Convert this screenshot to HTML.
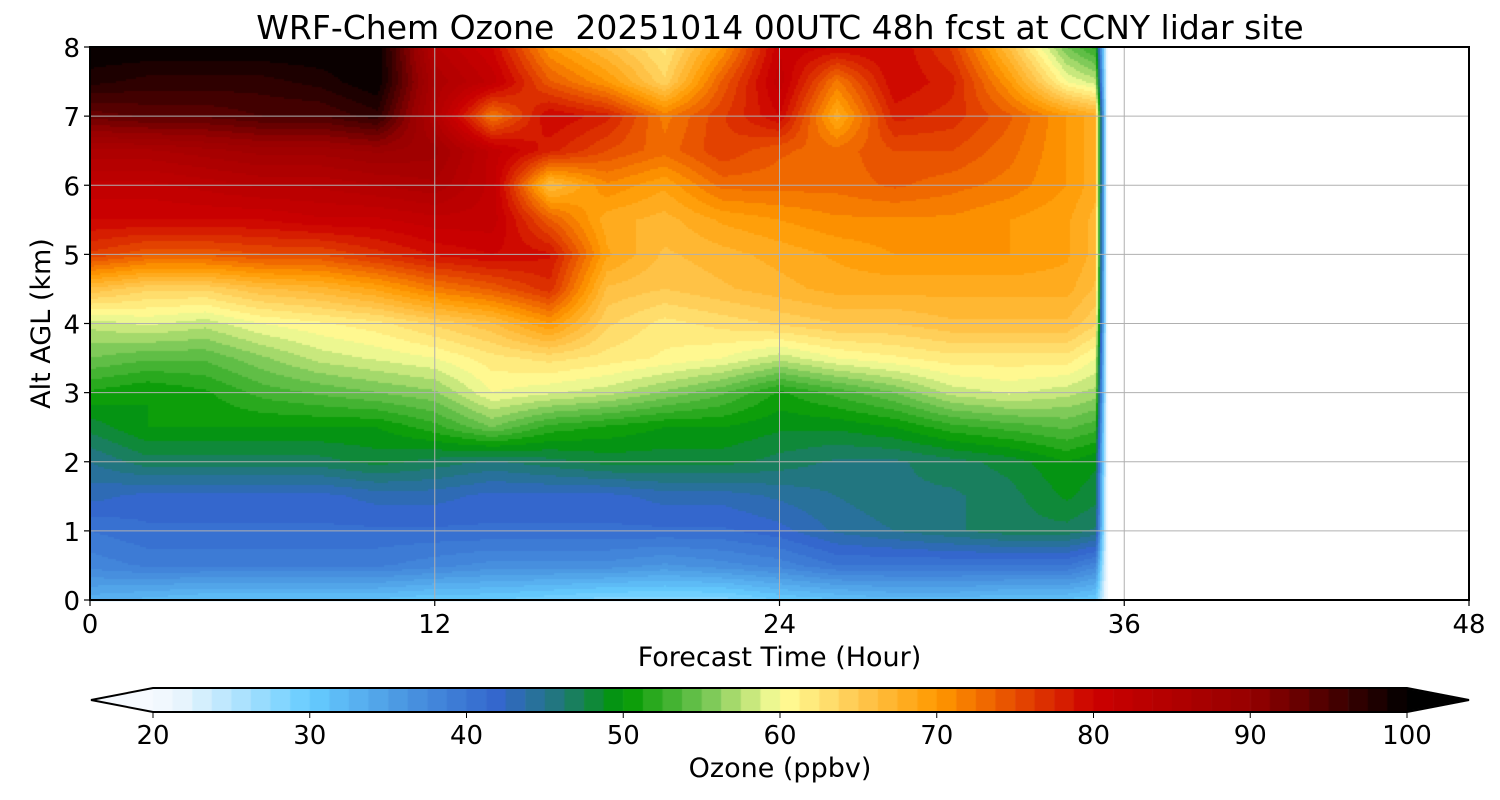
<!DOCTYPE html>
<html><head><meta charset="utf-8"><style>
body{margin:0;background:#fff;font-family:"DejaVu Sans","Liberation Sans",sans-serif}
#wrap{position:relative;width:1500px;height:800px;overflow:hidden}
.t{position:absolute;white-space:nowrap;color:#000}
</style></head><body>
<div id="wrap">
<div class="t" style="left:0;width:1560px;text-align:center;top:8px;font-size:33px">WRF-Chem Ozone&nbsp; 20251014 00UTC 48h fcst at CCNY lidar site</div>
<canvas id="cv" width="1500" height="800" style="position:absolute;left:0;top:0"></canvas>
<svg id="sv" width="1500" height="800" style="position:absolute;left:0;top:0;font-family:'DejaVu Sans',sans-serif"></svg>
</div>
<script>
const times=[0,2,4,6,8,10,12,14,16,18,20,22,24,26,28,30,32,34,35,35.4];
const heights=[0,0.5,1,1.5,2,2.5,3,3.5,4,4.5,5,5.5,6,6.5,7,7.5,8];
const ozone=[
[33,32,31,31,31,31,30,30,29,28,28,28,30,31,32,32,31,31,30],
[38,39,39,39,39,39,38,37,37,37,36,37,38,40,40,40,40,40,38],
[40,41,41,41,41,41,41,41,41,41,41,41,42,44,45,46,47,47,46],
[43,42,42,42,42,43,43,42,42,42,43,43,44,45,46,46,47,49,48],
[45,47,47,47,47,48,47,46,47,48,48,48,47,46,46,47,48,50,49],
[48,50,50,50,50,50,52,55,52,51,50,50,49,49,50,52,53,54,53],
[51,50,51,53,54,55,56,60,59,58,56,54,51,53,55,58,59,58,57],
[55,54,54,56,58,59,60,62,63,62,61,60,58,60,61,62,62,62,60],
[58,59,58,60,61,62,64,66,70,64,62,63,64,65,65,66,66,66,64],
[66,64,64,66,67,69,72,74,77,66,65,66,67,68,68,68,68,68,66],
[76,74,74,75,75,77,79,80,79,69,66,67,68,69,70,70,70,69,67],
[80,80,80,80,81,81,82,82,74,68,67,69,70,71,71,71,70,69,67],
[82,82,83,84,84,85,86,82,66,71,69,73,73,73,74,73,72,70,68],
[86,86,87,88,88,89,88,82,78,75,73,76,74,73,75,75,73,70,68],
[93,94,94,95,95,97,85,72,80,78,72,76,80,68,78,77,74,70,68],
[98,97,97,97,98,100,86,82,74,70,64,74,82,72,80,78,70,60,58],
[100,100,100,100,100,100,84,80,70,66,62,70,81,80,80,76,66,55,52]
];
const edgeValue=20;
const xTicks=[0,12,24,36,48];
const yTicks=[0,1,2,3,4,5,6,7,8];
const cbTicks=[20,30,40,50,60,70,80,90,100];
const L=90,R=1469,T=47,B=600;
const xs=t=>L+(R-L)*t/48, ys=h=>B-(B-T)*h/8;
const stops=[[20,[246,250,255]],[22,[230,244,253]],[30,[102,204,255]],[36,[74,150,225]],[42,[51,102,204]],[46,[32,120,120]],[50,[0,153,0]],[55,[110,195,80]],[60,[255,255,153]],[65,[255,200,80]],[70,[255,153,0]],[75,[230,75,0]],[80,[204,0,0]],[90,[150,0,0]],[100,[0,0,0]]];
function cmap(v){v=Math.max(20,Math.min(100,v));for(let i=1;i<stops.length;i++){if(v<=stops[i][0]){const a=stops[i-1],b=stops[i];const f=(v-a[0])/(b[0]-a[0]);return a[1].map((c,k)=>Math.round(c+(b[1][k]-c)*f));}}return[0,0,0];}
function val(t,h){
 let i=0;while(i<times.length-2&&t>times[i+1])i++;
 let j=0;while(j<heights.length-2&&h>heights[j+1])j++;
 const g=(r,c)=>c>=ozone[0].length?edgeValue:ozone[r][c];
 const ft=(t-times[i])/(times[i+1]-times[i]),fh=(h-heights[j])/(heights[j+1]-heights[j]);
 return (g(j,i)*(1-ft)+g(j,i+1)*ft)*(1-fh)+(g(j+1,i)*(1-ft)+g(j+1,i+1)*ft)*fh;}
const cv=document.getElementById('cv'),ctx=cv.getContext('2d');
const tMax=times[times.length-1],step=2;
for(let px=L;px<xs(tMax);px+=step){for(let py=T;py<B;py+=step){
 const t=(px+step/2-L)/(R-L)*48,h=(B-py-step/2)/(B-T)*8;if(t>tMax)continue;
 let v=val(t,h);v=20+Math.floor((v-20)/1.25)*1.25+0.6;
 const c=cmap(v);ctx.fillStyle=`rgb(${c})`;ctx.fillRect(px,py,step,step);}}
for(let k=0;k<64;k++){const v=20+k*1.25+0.6;const c=cmap(v);const x0=153+(1407-153)*k/64;ctx.fillStyle=`rgb(${c})`;ctx.fillRect(x0,688,(1407-153)/64+0.6,24);}
ctx.fillStyle=`rgb(${cmap(20)})`;ctx.beginPath();ctx.moveTo(91,700);ctx.lineTo(153,688);ctx.lineTo(153,712);ctx.fill();
ctx.fillStyle='#000';ctx.beginPath();ctx.moveTo(1469,700);ctx.lineTo(1407,688);ctx.lineTo(1407,712);ctx.fill();
const sv=document.getElementById('sv');const NS='http://www.w3.org/2000/svg';
function mk(tag,at,name){const e=document.createElementNS(NS,tag);for(const k in at)e.setAttribute(k,at[k]);


sv.appendChild(e);return e;}
xTicks.forEach(t=>{const x=xs(t);mk('line',{x1:x,x2:x,y1:T,y2:B,stroke:'#b0b0b0','stroke-width':1},'x-gridline');mk('line',{x1:x,x2:x,y1:B,y2:B+6,stroke:'#000','stroke-width':1.2},'x-tick');
const tx=mk('text',{x:x,y:B+33,'text-anchor':'middle','font-size':26},'x-tick-label');tx.textContent=t;});
yTicks.forEach(h=>{const y=ys(h);mk('line',{x1:L,x2:R,y1:y,y2:y,stroke:'#b0b0b0','stroke-width':1},'y-gridline');mk('line',{x1:L-6,x2:L,y1:y,y2:y,stroke:'#000','stroke-width':1.2},'y-tick');
const tx=mk('text',{x:L-10,y:y+10,'text-anchor':'end','font-size':26},'y-tick-label');tx.textContent=h;});
mk('rect',{x:L,y:T,width:R-L,height:B-T,fill:'none',stroke:'#000','stroke-width':2},'plot-frame');
const xl=mk('text',{x:(L+R)/2,y:666,'text-anchor':'middle','font-size':27},'x-axis-title');xl.textContent='Forecast Time (Hour)';
const yl=mk('text',{x:50,y:(T+B)/2,'text-anchor':'middle','font-size':27,transform:`rotate(-90 50 ${(T+B)/2})`},'y-axis-title');yl.textContent='Alt AGL (km)';
mk('polygon',{points:'91,700 153,688 1407,688 1469,700 1407,712 153,712',fill:'none',stroke:'#000','stroke-width':2},'colorbar-outline');
cbTicks.forEach(v=>{const x=153+(1407-153)*(v-20)/80;mk('line',{x1:x,x2:x,y1:712,y2:718,stroke:'#000'},'colorbar-tick');
const tx=mk('text',{x:x,y:744,'text-anchor':'middle','font-size':26},'colorbar-tick-label');tx.textContent=v;});
const cl=mk('text',{x:780,y:777,'text-anchor':'middle','font-size':27},'colorbar-title');cl.setAttribute('xml:space','preserve');cl.textContent='Ozone  (ppbv)';
</script>
</body></html>
